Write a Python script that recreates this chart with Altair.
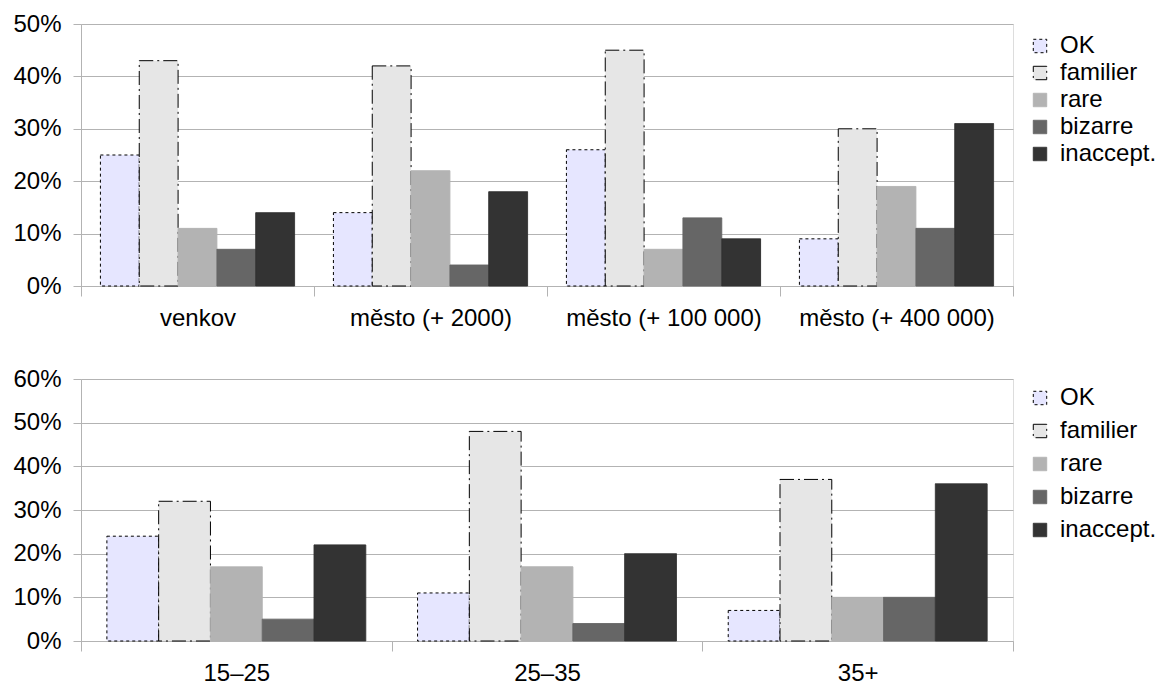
import altair as alt
import pandas as pd

categories = ["OK", "familier", "rare", "bizarre", "inaccept."]
fill_colors = ["#e6e6ff", "#e6e6e6", "#b3b3b3", "#666666", "#333333"]
stroke_colors = ["#000000", "#000000", "#b3b3b3", "#666666", "#333333"]
dashes = [[3, 3], [14, 4, 2, 4], [1, 0], [1, 0], [1, 0]]

top_groups = ["venkov", "město (+ 2000)", "město (+ 100 000)", "město (+ 400 000)"]
top_ok = [25, 14, 26, 9]
top_familier = [43, 42, 45, 30]
top_rare = [11, 22, 7, 19]
top_bizarre = [7, 4, 13, 11]
top_inaccept = [14, 18, 9, 31]

bot_groups = ["15–25", "25–35", "35+"]
bot_ok = [24, 11, 7]
bot_familier = [32, 48, 37]
bot_rare = [17, 17, 10]
bot_bizarre = [5, 4, 10]
bot_inaccept = [22, 20, 36]

top_ticks = [0, 0.1, 0.2, 0.3, 0.4, 0.5]
bot_ticks = [0, 0.1, 0.2, 0.3, 0.4, 0.5, 0.6]

GRAY = "#b3b3b3"
FONT = "Liberation Sans"


def make_df(groups, series):
    rows = []
    for cat, vals in zip(categories, series):
        for g, v in zip(groups, vals):
            rows.append({"group": g, "cat": cat, "value": v / 100})
    return pd.DataFrame(rows)


def panel(df, groups, ticks, row_padding, legend_y):
    leg = alt.Legend(
        title=None,
        orient="none",
        legendX=947,
        legendY=legend_y,
        padding=0,
        symbolType="square",
        symbolSize=180,
        symbolStrokeWidth=1,
        labelFontSize=24,
        labelFont=FONT,
        labelColor="black",
        labelOffset=8,
        labelLimit=0,
        rowPadding=row_padding,
    )
    return (
        alt.Chart(df)
        .mark_bar(strokeWidth=1)
        .encode(
            x=alt.X(
                "group:N",
                sort=groups,
                scale=alt.Scale(paddingInner=0, paddingOuter=0),
                axis=alt.Axis(
                    title=None,
                    labelAngle=0,
                    labelLimit=0,
                    tickBand="extent",
                    tickSize=10,
                    labelPadding=10,
                    labelFontSize=24,
                    labelFont=FONT,
                    labelColor="black",
                    domainColor=GRAY,
                    tickColor=GRAY,
                ),
            ),
            xOffset=alt.XOffset(
                "cat:N",
                sort=categories,
                scale=alt.Scale(paddingOuter=0.5, paddingInner=0),
            ),
            y=alt.Y(
                "value:Q",
                scale=alt.Scale(domain=[0, ticks[-1]], nice=False),
                axis=alt.Axis(
                    title=None,
                    format=".0%",
                    values=ticks,
                    tickSize=8,
                    labelPadding=12,
                    labelFontSize=24,
                    labelFont=FONT,
                    labelColor="black",
                    domainColor=GRAY,
                    tickColor=GRAY,
                    gridColor=GRAY,
                ),
            ),
            fill=alt.Fill("cat:N", sort=categories,
                          scale=alt.Scale(domain=categories, range=fill_colors), legend=leg),
            stroke=alt.Stroke("cat:N", sort=categories,
                              scale=alt.Scale(domain=categories, range=stroke_colors), legend=leg),
            strokeDash=alt.StrokeDash("cat:N", sort=categories,
                                      scale=alt.Scale(domain=categories, range=dashes), legend=leg),
        )
        .properties(width=932, height=262)
    )


top_df = make_df(top_groups, [top_ok, top_familier, top_rare, top_bizarre, top_inaccept])
bot_df = make_df(bot_groups, [bot_ok, bot_familier, bot_rare, bot_bizarre, bot_inaccept])

chart = (
    alt.vconcat(
        panel(top_df, top_groups, top_ticks, 3, 10),
        panel(bot_df, bot_groups, bot_ticks, 9, 7),
        spacing=35,
    )
    .resolve_scale(x="independent", y="independent", xOffset="independent",
                   fill="independent", stroke="independent", strokeDash="independent")
    .properties(padding={"left": 12, "top": 11, "right": 0, "bottom": 0})
    .configure_view(stroke=GRAY)
    .configure(background="white")
)

chart.save("out.html", embed_options={"renderer": "svg", "actions": False})
